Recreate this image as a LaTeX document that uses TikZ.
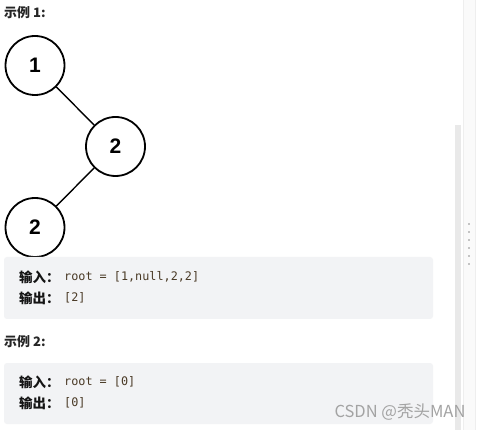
\documentclass[tikz,border=0pt]{standalone}
\usepackage{fontspec}
\setmainfont{Liberation Sans}
\newfontfamily\cjk{Noto Sans CJK SC}
\newfontfamily\monof{DejaVu Sans Mono}
\definecolor{boxbg}{HTML}{F2F3F5}
\definecolor{codecol}{HTML}{4A3A26}
\definecolor{labcol}{HTML}{141414}
\definecolor{headcol}{HTML}{262626}
\definecolor{scrollc}{HTML}{E9E9E9}
\definecolor{panelc}{HTML}{FAFAFA}
\definecolor{paneledge}{HTML}{EEEEEE}
\definecolor{dotc}{HTML}{C4C4C4}
\tikzset{
  treenode/.style={circle,draw=black,line width=1.8pt,minimum size=59pt,inner sep=0pt,
    font=\fontsize{21}{21}\selectfont\bfseries},
  edge/.style={draw=black,line width=1.4pt},
  codebox/.style={fill=boxbg,rounded corners=3pt,draw=none},
  head/.style={anchor=west,inner sep=0pt,text=headcol,font=\cjk\bfseries\fontsize{13}{14}\selectfont},
  lab/.style={anchor=west,inner sep=0pt,text=labcol,font=\cjk\bfseries\fontsize{13.5}{14}\selectfont},
  code/.style={anchor=west,inner sep=0pt,text=codecol,font=\monof\fontsize{11.8}{13}\selectfont},
  wm/.style={inner sep=0pt,text=black!36,font=\cjk\fontsize{16.5}{17}\selectfont},
}
\begin{document}
\begin{tikzpicture}[x=1pt,y=-1pt]
\useasboundingbox (0,0) rectangle (482,430);
\fill[white] (0,0) rectangle (482,430);
% right panel and scrollbar
\filldraw[fill=panelc,draw=paneledge] (463,-1) rectangle (475,431);
\fill[scrollc] (455,125) rectangle (461,431);
\foreach \yy in {224,232,240,248,256,264} \fill[dotc] (468.2,\yy-0.8) rectangle (469.8,\yy+0.8);
% heading 1
\node[head] (h1) at (4,13) {示例 1:};
% tree
\node[treenode] (n1) at (35,65.5) {1};
\node[treenode] (n2) at (115.5,146.5) {2};
\node[treenode] (n3) at (35,227.5) {2};
\draw[edge] (n1) -- (n2);
\draw[edge] (n2) -- (n3);
% code box 1
\path[codebox] (4,257) rectangle (433,319);
\node[lab] (l1a) at (19,277) {输入：};
\node[code] (c1a) at (64,277) {root = [1,null,2,2]};
\node[lab] (l1b) at (19,298) {输出：};
\node[code] (c1b) at (64,298) {[2]};
% heading 2
\node[head] (h2) at (4,342) {示例 2:};
% code box 2
\path[codebox] (4,363) rectangle (433,424);
\node[lab] (l2a) at (19,382) {输入：};
\node[code] (c2a) at (64,382) {root = [0]};
\node[lab] (l2b) at (19,403) {输出：};
\node[code] (c2b) at (64,403) {[0]};
% watermark
\node[wm] (w) at (400,412) {CSDN @秃头MAN};
\end{tikzpicture}
\end{document}
